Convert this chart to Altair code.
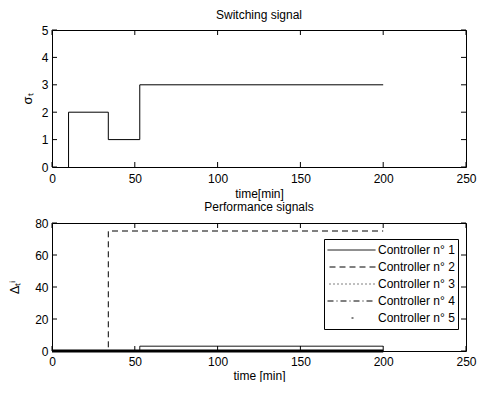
import altair as alt
import pandas as pd

# ---- data ----
switch_t = [10, 10, 34, 53, 200]
switch_sigma = [0, 2, 1, 3, 3]

controllers = ["Controller n° 1", "Controller n° 2", "Controller n° 3",
               "Controller n° 4", "Controller n° 5"]
c1_t = [0, 53, 200]
c1_v = [0, 3, 3]
c2_t = [0, 34, 200]
c2_v = [0, 75, 75]
c3_t = [0, 200]
c3_v = [0, 0]
c4_t = [0, 200]
c4_v = [0, 0]
c5_t = [0, 200]
c5_v = [0, 0]

x_ticks = [0, 50, 100, 150, 200, 250]
sig_ticks = [0, 1, 2, 3, 4, 5]
perf_ticks = [0, 20, 40, 60, 80]

# ---- layout / style ----
W, H1, H2 = 414, 137, 128
TL = 5
FONT = "Liberation Sans"
FS = 12

sig_df = pd.DataFrame({"t": switch_t, "sigma": switch_sigma, "i": range(len(switch_t))})

rows = []
for name, ts, vs in zip(controllers, [c1_t, c2_t, c3_t, c4_t, c5_t],
                        [c1_v, c2_v, c3_v, c4_v, c5_v]):
    for k, (t, v) in enumerate(zip(ts, vs)):
        rows.append({"controller": name, "t": t, "v": v, "i": k})
perf_df = pd.DataFrame(rows)

xscale = alt.Scale(domain=[0, 250], nice=False)


def xaxis(title, lp, tp):
    return alt.Axis(values=x_ticks, title=title, tickSize=0, domain=False, grid=False,
                    labelPadding=lp, titlePadding=tp, labelFontSize=FS, titleFontSize=FS,
                    titleFontWeight="normal", labelColor="black", titleColor="black",
                    labelFlush=False)


def yaxis(title, vals, tp):
    return alt.Axis(values=vals, title=title, tickSize=0, domain=False, grid=False,
                    labelPadding=4, titlePadding=tp, labelFontSize=FS, titleFontSize=FS + 1,
                    titleFontWeight="normal", labelColor="black", titleColor="black",
                    labelFlush=False)


def tick_layers(yfield, yvals, yscale, H, xax, yax):
    xt = pd.DataFrame({"t": x_ticks})
    yt = pd.DataFrame({yfield: yvals})
    base_x = alt.Chart(xt).mark_rule(color="black", strokeWidth=1)
    base_y = alt.Chart(yt).mark_rule(color="black", strokeWidth=1)
    xe = alt.X("t:Q", scale=xscale, axis=xax)
    ye = alt.Y(f"{yfield}:Q", scale=yscale, axis=yax)
    return [
        base_x.encode(x=xe, y=alt.value(H), y2=alt.value(H - TL)),
        base_x.encode(x=xe, y=alt.value(0), y2=alt.value(TL)),
        base_y.encode(y=ye, x=alt.value(0), x2=alt.value(TL)),
        base_y.encode(y=ye, x=alt.value(W - TL), x2=alt.value(W)),
    ]


# ---- top panel ----
yscale1 = alt.Scale(domain=[0, 5], nice=False)
xax1 = xaxis("time[min]", 6, 4)
yax1 = yaxis("σₜ", sig_ticks, 7)
sig_line = alt.Chart(sig_df).mark_line(color="black", strokeWidth=1, interpolate="step-after").encode(
    x=alt.X("t:Q", scale=xscale, axis=xax1),
    y=alt.Y("sigma:Q", scale=yscale1, axis=yax1),
    order=alt.Order("i:Q"),
)
top = alt.layer(sig_line, *tick_layers("sigma", sig_ticks, yscale1, H1, xax1, yax1)).properties(
    width=W, height=H1,
    title=alt.TitleParams("Switching signal", fontSize=FS, fontWeight="normal", font=FONT,
                          color="black", offset=2),
)

# ---- bottom panel ----
yscale2 = alt.Scale(domain=[0, 80], nice=False)
xax2 = xaxis("time [min]", 5, 3)
yax2 = yaxis("Δₜⁱ", perf_ticks, 13)
dash_range = [[1, 0], [6, 4], [1, 3], [6, 3, 1, 3], [2, 100]]
perf_line = alt.Chart(perf_df).mark_line(color="black", strokeWidth=1, interpolate="step-after").encode(
    x=alt.X("t:Q", scale=xscale, axis=xax2),
    y=alt.Y("v:Q", scale=yscale2, axis=yax2),
    strokeDash=alt.StrokeDash(
        "controller:N",
        scale=alt.Scale(domain=controllers, range=dash_range),
        legend=alt.Legend(title=None, orient="none", legendX=272, legendY=16,
                          symbolType="stroke", symbolSize=2304, symbolStrokeWidth=1,
                          symbolStrokeColor="black", clipHeight=16, rowPadding=1,
                          labelOffset=2, labelFontSize=FS, labelColor="black", labelFont=FONT,
                          padding=3, strokeColor="black", fillColor="white",
                          symbolDashOffset=78),
    ),
    detail="controller:N",
    order=alt.Order("i:Q"),
)
thick = alt.Chart(perf_df).transform_filter(
    alt.datum.controller == controllers[4]
).mark_line(color="black", strokeWidth=3).encode(
    x=alt.X("t:Q", scale=xscale, axis=xax2),
    y=alt.Y("v:Q", scale=yscale2, axis=yax2),
    order=alt.Order("i:Q"),
)
bottom = alt.layer(thick, perf_line, *tick_layers("v", perf_ticks, yscale2, H2, xax2, yax2)).properties(
    width=W, height=H2,
    title=alt.TitleParams("Performance signals", fontSize=FS, fontWeight="normal", font=FONT,
                          color="black", offset=3),
)

chart = alt.vconcat(top, bottom, spacing=0).resolve_legend(
    strokeDash="independent"
).properties(
    padding={"left": 0, "top": 0, "right": 0, "bottom": 0},
    background="white",
).configure(font=FONT).configure_view(
    stroke="black", strokeWidth=1
).configure_axis(titleFontWeight="normal", labelFontWeight="normal")

chart.save("out.html", embed_options={"renderer": "svg", "actions": False})
